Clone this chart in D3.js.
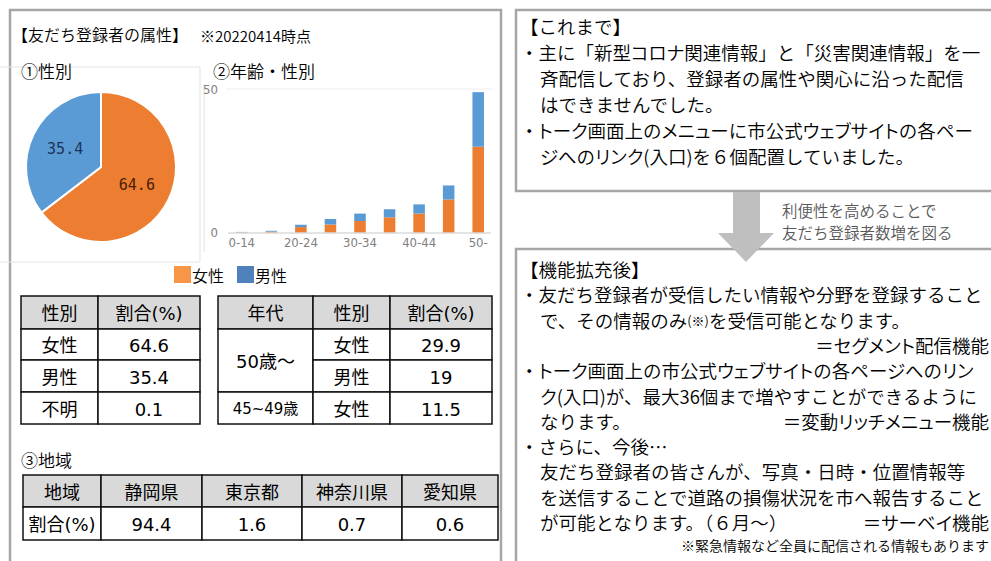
<!DOCTYPE html>
<html><head><meta charset="utf-8">
<script src="https://cdn.jsdelivr.net/npm/d3@7"></script>
<style>
body{margin:0;background:#fff;}
svg{display:block;font-family:"Noto Sans CJK JP",sans-serif;}
.jp{font-weight:350;}
.k{font-feature-settings:"palt";}
</style></head><body>
<svg id="c" width="991" height="561"></svg>
<script>
// ---------- data ----------
const genderLabels = ["女性", "男性"];
const genderShare = [64.6, 35.4];
const ageGroups = ["0-14","15-19","20-24","25-29","30-34","35-39","40-44","45-49","50-"];
const femaleByAge = [0.1, 0.3, 1.9, 2.8, 4.0, 5.3, 6.6, 11.5, 29.9];
const maleByAge   = [0.1, 0.3, 0.8, 1.9, 2.6, 2.8, 3.2, 4.9, 19.0];
const ageTickLabels = ["0-14","20-24","30-34","40-44","50-"];
const yTickValues = [0, 50];
const genderTableHead = ["性別", "割合(%)"];
const genderTableRows = [["女性","64.6"],["男性","35.4"],["不明","0.1"]];
const ageTableHead = ["年代", "性別", "割合(%)"];
const ageTableRows = [["50歳～","女性","29.9"],["50歳～","男性","19"],["45~49歳","女性","11.5"]];
const regionHead = ["地域", "静岡県", "東京都", "神奈川県", "愛知県"];
const regionRowLabel = "割合(%)";
const regionShare = [94.4, 1.6, 0.7, 0.6];
const beforeLines = [
  "【これまで】",
  "・主に「新型コロナ関連情報」と「災害関連情報」を一",
  "斉配信しており、登録者の属性や関心に沿った配信",
  "はできませんでした。",
  "・トーク画面上のメニューに市公式ウェブサイトの各ペー",
  "ジへのリンク(入口)を６個配置していました。"
];
const afterLines = [
  "【機能拡充後】",
  "・友だち登録者が受信したい情報や分野を登録すること",
  "で、その情報のみ|(※)|を受信可能となります。",
  ">＝セグメント配信機能",
  "・トーク画面上の市公式ウェブサイトの各ページへのリン",
  "ク(入口)が、最大36個まで増やすことができるように",
  "なります。>＝変動リッチメニュー機能",
  "・さらに、今後…",
  "友だち登録者の皆さんが、写真・日時・位置情報等",
  "を送信することで道路の損傷状況を市へ報告すること",
  "が可能となります。（６月～）>＝サーベイ機能",
  "#※緊急情報など全員に配信される情報もあります"
];

// ---------- drawing ----------
const svg = d3.select("#c");
const frame = "#a6a6a6";

// left frame
svg.append("rect").attr("x",10).attr("y",10).attr("width",491).attr("height",570)
  .attr("fill","none").attr("stroke",frame).attr("stroke-width",2.5);

// faint image borders
const faint = "#e6e6e6";
[[0,67,200,67],[0,262,200,262],[200,67,200,262],[204,84,204,252]].forEach(l=>
  svg.append("line").attr("x1",l[0]).attr("y1",l[1]).attr("x2",l[2]).attr("y2",l[3])
    .attr("stroke",faint).attr("stroke-width",1.2));

svg.append("text").attr("class","jp").attr("x",12).attr("y",34).attr("dominant-baseline","central")
  .attr("font-size",16).attr("fill","#000").text("【友だち登録者の属性】");
svg.append("text").attr("class","jp").attr("x",200).attr("y",35).attr("dominant-baseline","central")
  .attr("font-size",15).attr("fill","#000").text("※20220414時点");
svg.append("text").attr("class","jp").attr("x",21).attr("y",70).attr("dominant-baseline","central")
  .attr("font-size",17).attr("fill","#000").text("①性別");
svg.append("text").attr("class","jp").attr("x",213).attr("y",70).attr("dominant-baseline","central")
  .attr("font-size",17).attr("fill","#000").text("②年齢・性別");

// pie
const pieColors = ["#ED7D31", "#5B9BD5"];
const pieLabelColors = ["#4a1e08", "#1b3358"];
const pieG = svg.append("g").attr("transform","translate(101,167)");
const arcs = d3.pie().sort(null).value(d=>d)(genderShare);
const arc = d3.arc().innerRadius(0).outerRadius(75);
const labelArc = d3.arc().innerRadius(40).outerRadius(40);
pieG.selectAll("path").data(arcs).join("path").attr("d",arc)
  .attr("fill",(d,i)=>pieColors[i]).attr("stroke","#fff").attr("stroke-width",2);
pieG.selectAll("text").data(arcs).join("text")
  .attr("transform",d=>`translate(${labelArc.centroid(d)})`)
  .attr("text-anchor","middle").attr("dominant-baseline","central")
  .attr("font-family","DejaVu Sans Mono").attr("font-size",15)
  .attr("fill",(d,i)=>pieLabelColors[i]).text(d=>d.data.toFixed(1));

// stacked bars
const x = d3.scaleBand().domain(ageGroups).range([227,493]).paddingInner(0.61).paddingOuter(0.305);
const y = d3.scaleLinear().domain([0,50]).range([232.5,89]);
const stackData = ageGroups.map((g,i)=>({g, f:femaleByAge[i], m:maleByAge[i]}));
const series = d3.stack().keys(["f","m"])(stackData);
svg.append("line").attr("x1",226).attr("x2",492).attr("y1",y(50)).attr("y2",y(50))
  .attr("stroke","#eeeeee").attr("stroke-width",1);
svg.append("g").selectAll("g").data(series).join("g").attr("fill",(d,i)=>pieColors[i])
  .selectAll("rect").data(d=>d).join("rect")
  .attr("x",d=>x(d.data.g)).attr("width",x.bandwidth())
  .attr("y",d=>y(d[1])).attr("height",d=>y(d[0])-y(d[1]));
const xAxis = svg.append("g").attr("transform",`translate(0,${y(0)})`)
  .call(d3.axisBottom(x).tickValues(ageTickLabels).tickSize(0).tickPadding(5));
xAxis.select(".domain").attr("stroke","#c8c8c8").attr("d","M228,0.5H491");
xAxis.selectAll("text").attr("font-family","Liberation Sans Narrow, DejaVu Sans Condensed, sans-serif")
  .attr("font-size",13).attr("fill","#808080");
const yAxis = svg.append("g").attr("transform","translate(220,0)")
  .call(d3.axisLeft(y).tickValues(yTickValues).tickSize(0).tickPadding(2));
yAxis.select(".domain").remove();
yAxis.selectAll("text").attr("font-family","Liberation Sans Narrow, DejaVu Sans Condensed, sans-serif")
  .attr("font-size",13).attr("fill","#808080");

// legend
const leg = svg.append("g");
genderLabels.forEach((lab,i)=>{
  const lx = 174 + i*63;
  leg.append("rect").attr("x",lx).attr("y",266).attr("width",17).attr("height",17)
    .attr("fill",["#F79646","#4F81BD"][i]);
  leg.append("text").attr("class","jp").attr("x",lx+18).attr("y",275).attr("dominant-baseline","central")
    .attr("font-size",16).attr("fill","#000").text(lab);
});

// tables
const tfont = "DejaVu Sans, Noto Sans CJK JP, sans-serif";
function cell(x0,y0,x1,y1,txt,head,fs){
  svg.append("rect").attr("x",x0).attr("y",y0).attr("width",x1-x0).attr("height",y1-y0)
    .attr("fill",head?"#d9d9d9":"#fff").attr("stroke","#111").attr("stroke-width",1.5);
  svg.append("text").attr("x",(x0+x1)/2).attr("y",(y0+y1)/2+1).attr("text-anchor","middle")
    .attr("dominant-baseline","central").attr("font-family",tfont).attr("font-size",fs||18)
    .attr("fill","#000").text(txt);
}
const rowsY = [296,329,360,392,424];
const gCols = [21,98,200];
genderTableHead.forEach((h,j)=>cell(gCols[j],rowsY[0],gCols[j+1],rowsY[1],h,true));
genderTableRows.forEach((r,i)=>r.forEach((v,j)=>cell(gCols[j],rowsY[i+1],gCols[j+1],rowsY[i+2],v,false)));
const aCols = [218,313,390,492];
ageTableHead.forEach((h,j)=>cell(aCols[j],rowsY[0],aCols[j+1],rowsY[1],h,true));
ageTableRows.forEach((r,i)=>r.forEach((v,j)=>{
  if(j===0){
    if(i>0 && ageTableRows[i-1][0]===v) return;
    let span=1; while(ageTableRows[i+span] && ageTableRows[i+span][0]===v) span++;
    cell(aCols[0],rowsY[i+1],aCols[1],rowsY[i+1+span],v,false, v.length>4?15:18);
  } else cell(aCols[j],rowsY[i+1],aCols[j+1],rowsY[i+2],v,false);
}));

svg.append("text").attr("class","jp").attr("x",21).attr("y",459).attr("dominant-baseline","central")
  .attr("font-size",17).attr("fill","#000").text("③地域");
const rCols = [23,101,202,302,402,498];
const rRows = [475,507,540];
regionHead.forEach((h,j)=>cell(rCols[j],rRows[0],rCols[j+1],rRows[1],h,true));
[regionRowLabel, ...regionShare.map(v=>v.toFixed(1))].forEach((v,j)=>cell(rCols[j],rRows[1],rCols[j+1],rRows[2],v,false));

// right boxes
svg.append("rect").attr("x",516).attr("y",10).attr("width",500).attr("height",181)
  .attr("fill","none").attr("stroke",frame).attr("stroke-width",2.5);
svg.append("rect").attr("x",516).attr("y",249).attr("width",500).attr("height",340)
  .attr("fill","none").attr("stroke",frame).attr("stroke-width",2.5);
// arrow
svg.append("path").attr("d","M733,192H760V233H774L746,262L718,233H733Z").attr("fill","#bfbfbf");
svg.append("text").attr("class","jp").attr("x",782).attr("y",210).attr("dominant-baseline","central")
  .attr("font-size",15.5).attr("fill","#595959").text("利便性を高めることで");
svg.append("text").attr("class","jp").attr("x",782).attr("y",232).attr("dominant-baseline","central")
  .attr("font-size",15.5).attr("fill","#595959").text("友だち登録者数増を図る");

// katakana runs get proportional widths (like the original UI font)
function fillRuns(t, str, fs){
  str.split(/([\u30A1-\u30FA\u30FC]+)/).forEach((run,k)=>{
    if(!run) return;
    const ts = t.append("tspan").attr("font-size",fs).text(run);
    if(k%2) ts.attr("class","k");
  });
}
function writeLines(lines, y0, dy, fs){
  lines.forEach((ln,i)=>{
    const cy = y0 + i*dy;
    if(ln.startsWith("#")){
      const t = svg.append("text").attr("class","jp").attr("x",989).attr("y",cy-2).attr("text-anchor","end")
        .attr("dominant-baseline","central").attr("fill","#000");
      fillRuns(t, ln.slice(1), 14);
      return;
    }
    let left = ln, right = null;
    if(ln.includes(">")){ [left,right] = ln.split(">"); }
    if(left){
      const lead = left.startsWith("・")||left.startsWith("【");
      const t = svg.append("text").attr("class","jp").attr("x",lead?520:540).attr("y",cy)
        .attr("dominant-baseline","central").attr("fill","#000");
      left.split("|").forEach((part,k)=> fillRuns(t, part, k%2?13:fs));
    }
    if(right){
      const t = svg.append("text").attr("class","jp").attr("x",989).attr("y",cy).attr("text-anchor","end")
        .attr("dominant-baseline","central").attr("fill","#000");
      fillRuns(t, right, fs);
    }
  });
}
writeLines(beforeLines, 26, 26, 18.5);
writeLines(afterLines, 269, 25.3, 18.5);
</script>
</body></html>
